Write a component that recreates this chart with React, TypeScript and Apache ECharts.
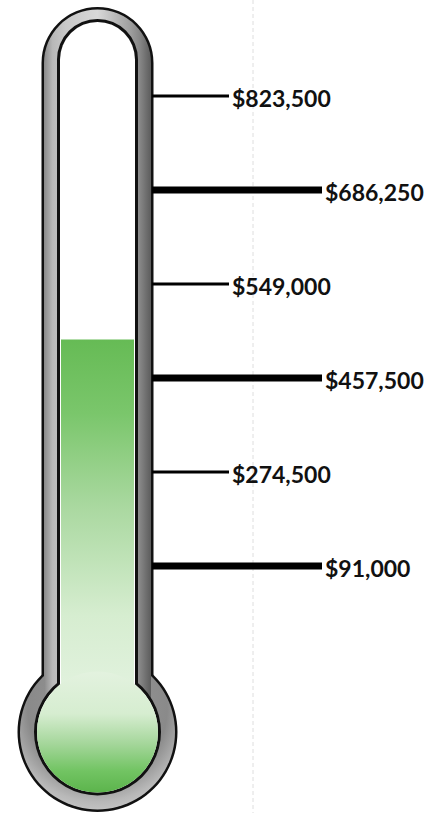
import React, { useEffect, useRef } from "react";
import * as echarts from "echarts";

// ---- data ----
const categories = ["Raised"];
const milestones = [91000, 274500, 457500, 549000, 686250, 823500];
const milestoneKinds = ["major", "minor", "major", "minor", "major", "minor"];
const raisedValues = [495000];

// level 0 is the bulb; milestones sit on evenly spaced levels above it
const FIRST_LEVEL = 1.5;
function levelOf(v: number): number {
  if (v <= milestones[0]) return FIRST_LEVEL * (v / milestones[0]);
  for (let i = 0; i < milestones.length - 1; i++) {
    if (v <= milestones[i + 1]) {
      return FIRST_LEVEL + i + (v - milestones[i]) / (milestones[i + 1] - milestones[i]);
    }
  }
  return FIRST_LEVEL + milestones.length - 1;
}

const fmt = (v: number) => "$" + v.toLocaleString("en-US");

export default function App() {
  const ref = useRef<HTMLDivElement>(null);
  useEffect(() => {
    if (!ref.current) return;
    const chart = echarts.init(ref.current, undefined, { renderer: "svg" });
    const cx = 97.5;
    const bulbY = 732;
    const grayGrad = new echarts.graphic.LinearGradient(0, 0, 1, 0, [
      { offset: 0, color: "#8a8a8a" },
      { offset: 0.08, color: "#b8b8b8" },
      { offset: 0.2, color: "#c8c8c8" },
      { offset: 0.5, color: "#d8d8d8" },
      { offset: 0.8, color: "#a0a0a0" },
      { offset: 0.9, color: "#858585" },
      { offset: 1, color: "#5c5c5c" },
    ]);
    const bulbGray = new echarts.graphic.RadialGradient(0.5, 0.35, 0.75, [
      { offset: 0, color: "#9a9a9a" },
      { offset: 0.6, color: "#8a8a8a" },
      { offset: 0.8, color: "#b8b8b8" },
      { offset: 1, color: "#d4d4d4" },
    ]);
    const bulbGreen = new echarts.graphic.LinearGradient(0, 0, 0, 1, [
      { offset: 0, color: "#e3f2df" },
      { offset: 0.35, color: "#d6edd0" },
      { offset: 0.6, color: "#a4d69a" },
      { offset: 0.82, color: "#72c463" },
      { offset: 1, color: "#5cb44c" },
    ]);
    const tubeGreen = new echarts.graphic.LinearGradient(0, 0, 0, 1, [
      { offset: 0, color: "#66bb55" },
      { offset: 0.2, color: "#7ac66b" },
      { offset: 0.45, color: "#a9d89f" },
      { offset: 0.75, color: "#d6edd0" },
      { offset: 1, color: "#e4f3e1" },
    ]);

    const tickData = milestones.map((m, i) => [0, levelOf(m), milestoneKinds[i] === "major" ? 1 : 0, i]);

    chart.setOption({
      animation: false,
      backgroundColor: "#ffffff",
      grid: { left: cx - 37.5, width: 75, top: 2, height: 705 },
      xAxis: { type: "category", data: categories, show: false },
      yAxis: { type: "value", min: 0, max: 7.5, show: false, splitLine: { show: false } },
      graphic: {
        elements: [
          { type: "line", z: -1, shape: { x1: 253, y1: 0, x2: 253, y2: 813 }, style: { stroke: "#dedede", lineWidth: 1, lineDash: [4, 3] } },
          // outer black
          { type: "rect", z: 0, shape: { x: cx - 56, y: 7, width: 112, height: 725, r: [56, 56, 0, 0] }, style: { fill: "#111" } },
          { type: "circle", z: 0, shape: { cx, cy: bulbY, r: 80 }, style: { fill: "#111" } },
          // gray wall
          { type: "circle", z: 0, shape: { cx, cy: bulbY, r: 77.5 }, style: { fill: bulbGray } },
          { type: "rect", z: 0, shape: { x: cx - 53.5, y: 9.5, width: 107, height: 700, r: [53.5, 53.5, 0, 0] }, style: { fill: grayGrad } },
          // inner black
          { type: "rect", z: 0, shape: { x: cx - 40.5, y: 19, width: 81, height: 713, r: [40.5, 40.5, 0, 0] }, style: { fill: "#111" } },
          { type: "circle", z: 0, shape: { cx, cy: bulbY, r: 63.5 }, style: { fill: "#111" } },
          // inner white
          { type: "rect", z: 0, shape: { x: cx - 37.5, y: 22, width: 75, height: 710, r: [37.5, 37.5, 0, 0] }, style: { fill: "#ffffff" } },
          { type: "circle", z: 0, shape: { cx, cy: bulbY, r: 60.5 }, style: { fill: "#ffffff" } },
          // green bulb over bar bottom
          { type: "circle", z: 10, shape: { cx, cy: bulbY, r: 60.5 }, style: { fill: bulbGreen } },
        ],
      },
      series: [
        {
          type: "bar",
          data: raisedValues.map((v) => levelOf(v)),
          barWidth: 73,
          z: 2,
          itemStyle: { color: tubeGreen },
        },
        {
          type: "custom",
          z: 3,
          clip: false,
          encode: { x: 0, y: 1 },
          data: tickData,
          renderItem: (params: any, api: any) => {
            const level = api.value(1);
            const major = api.value(2) === 1;
            const idx = api.value(3);
            const pt = api.coord([api.value(0), level]);
            const cs = params.coordSys;
            const x0 = cs.x + cs.width + 17;
            const len = major ? 170 : 77;
            const y = pt[1];
            return {
              type: "group",
              children: [
                {
                  type: "line",
                  shape: { x1: x0, y1: y, x2: x0 + len, y2: y },
                  style: { stroke: "#000", lineWidth: major ? 7 : 3 },
                },
                {
                  type: "text",
                  x: x0 + len + 3,
                  y: y + 1.5,
                  style: {
                    text: fmt(milestones[idx]),
                    fontFamily: "Lato",
                    fontWeight: "bold",
                    fontSize: 23,
                    fill: "#111",
                    verticalAlign: "middle",
                    align: "left",
                  },
                },
              ],
            };
          },
        },
      ],
    });
    return () => chart.dispose();
  }, []);
  return (
    <div
      ref={ref}
      style={{ position: "absolute", left: 0, top: 0, width: 447, height: 813 }}
    />
  );
}
